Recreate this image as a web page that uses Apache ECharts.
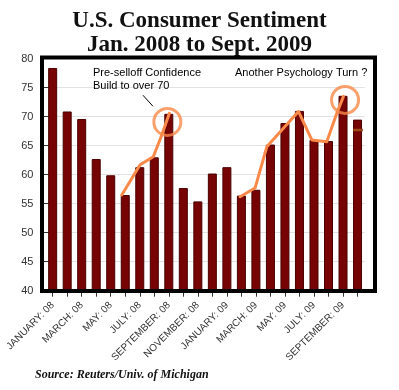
<!DOCTYPE html>
<html>
<head>
<meta charset="utf-8">
<script src="https://cdn.jsdelivr.net/npm/echarts@6/dist/echarts.min.js"></script>
<style>
html,body{margin:0;padding:0;background:#fff;}
#chart{width:399px;height:390px;}
</style>
</head>
<body>
<div id="chart"></div>
<script>
const categories = ['JANUARY: 08','FEBRUARY: 08','MARCH: 08','APRIL: 08','MAY: 08','JUNE: 08','JULY: 08','AUGUST: 08','SEPTEMBER: 08','OCTOBER: 08','NOVEMBER: 08','DECEMBER: 08','JANUARY: 09','FEBRUARY: 09','MARCH: 09','APRIL: 09','MAY: 09','JUNE: 09','JULY: 09','AUGUST: 09','SEPTEMBER: 09','OCTOBER: 09'];
const sentiment = [78.4,70.9,69.6,62.7,59.9,56.5,61.3,63.0,70.5,57.7,55.4,60.2,61.3,56.4,57.4,65.2,68.9,71.0,66.0,65.8,73.6,69.5];
const yTicks = {min: 40, max: 80, step: 5};
// hand-drawn annotation strokes, in (category index, sentiment) units
const turnLine1 = [[4.76,56.5],[6.02,61.7],[6.93,63.1],[7.51,66.8],[8.04,70.6]];
const turnLine2 = [[12.91,56.2],[13.94,57.7],[14.75,64.8],[16.93,70.9],[17.85,66.0],[18.88,65.7],[19.57,70.6],[20.03,73.5]];
const circles = [[7.90,69.1],[20.14,72.9]];
const pointer = [[6.22,73.7],[6.91,71.8]];
const brownMark = [[20.7,67.7],[21.37,67.7]];

const chart = echarts.init(document.getElementById('chart'), null, {renderer: 'canvas'});
const orange = '#f98a4a';
chart.setOption({
  animation: false,
  backgroundColor: '#fff',
  title: [
    {text: 'U.S. Consumer Sentiment\nJan. 2008 to Sept. 2009', left: 'center', top: 4,
     textStyle: {fontFamily: 'Liberation Serif', fontWeight: 'bold', fontSize: 23, lineHeight: 24, color: '#111'}},
    {text: 'Source: Reuters/Univ. of Michigan', left: 30, top: 364,
     textStyle: {fontFamily: 'Liberation Serif', fontWeight: 'bold', fontStyle: 'italic', fontSize: 12, color: '#111'}},
    {text: 'Pre-selloff Confidence\nBuild to over 70', left: 88, top: 61,
     textStyle: {fontFamily: 'Liberation Sans', fontWeight: 'normal', fontSize: 11, lineHeight: 13, color: '#000'}},
    {text: 'Another Psychology Turn ?', left: 230, top: 61,
     textStyle: {fontFamily: 'Liberation Sans', fontWeight: 'normal', fontSize: 11, lineHeight: 13, color: '#000'}}
  ],
  grid: [
    {left: 45.4, right: 34.2, top: 58.7, bottom: 99.3, show: false},
    {left: 42, right: 24, top: 57.5, bottom: 99, show: true, borderColor: '#000', borderWidth: 4, backgroundColor: 'transparent', z: 10}
  ],
  xAxis: [
    {type: 'category', gridIndex: 0, data: categories,
     axisLine: {show: false},
     axisTick: {show: true, alignWithLabel: true, interval: 0, length: 6, lineStyle: {color: '#333'}},
     axisLabel: {interval: 1, rotate: 45, fontSize: 10, fontFamily: 'Liberation Sans', color: '#333', margin: 13},
     splitLine: {show: false}},
    {type: 'value', gridIndex: 0, min: -0.5, max: categories.length - 0.5, show: false}
  ],
  yAxis: [
    {type: 'value', gridIndex: 0, min: yTicks.min, max: yTicks.max, interval: yTicks.step,
     axisLine: {show: false},
     axisTick: {show: true, length: 10, lineStyle: {color: '#333'}},
     axisLabel: {fontSize: 11, fontFamily: 'Liberation Sans', color: '#333', margin: 12},
     splitLine: {show: true, lineStyle: {color: '#e2e2e2', width: 1}}}
  ],
  series: [
    {type: 'bar', xAxisIndex: 0, yAxisIndex: 0, data: sentiment, barWidth: 9,
     itemStyle: {color: '#760404', borderColor: '#4a0000', borderWidth: 1}},
    {type: 'line', xAxisIndex: 1, yAxisIndex: 0, data: turnLine1, symbol: 'none', z: 5,
     lineStyle: {color: orange, width: 3, cap: 'round', join: 'round'}},
    {type: 'line', xAxisIndex: 1, yAxisIndex: 0, data: turnLine2, symbol: 'none', z: 5,
     lineStyle: {color: orange, width: 3, cap: 'round', join: 'round'}},
    {type: 'scatter', xAxisIndex: 1, yAxisIndex: 0, data: circles, symbol: 'circle', symbolSize: 27, z: 6,
     itemStyle: {color: 'rgba(0,0,0,0)', borderColor: orange, borderWidth: 3}},
    {type: 'line', xAxisIndex: 1, yAxisIndex: 0, data: pointer, symbol: 'none', z: 5,
     lineStyle: {color: '#000', width: 1}},
    {type: 'line', xAxisIndex: 1, yAxisIndex: 0, data: brownMark, symbol: 'none', z: 5,
     lineStyle: {color: '#9c4a1a', width: 2.5}}
  ]
});
</script>
</body>
</html>
